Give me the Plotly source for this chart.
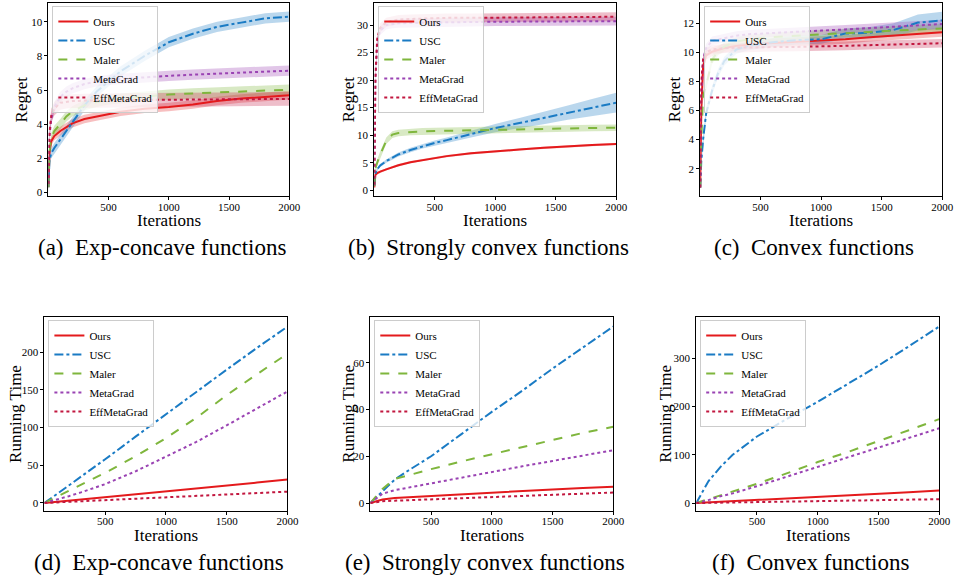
import plotly.graph_objects as go

W, H = 966, 583

NAMES = ["Ours", "USC", "Maler", "MetaGrad", "EffMetaGrad"]
COLORS = ["#e41a1c", "#1a7bc4", "#7fb63d", "#9a43b3", "#c2173f"]
FILLS = ["rgba(228,26,28,0.28)", "rgba(26,123,196,0.3)", "rgba(127,182,61,0.3)",
         "rgba(154,67,179,0.3)", "rgba(194,23,63,0.28)"]
DASHES = ["solid", "dashdot", "dash", "dot", "dot"]

# ---------------- Regret data ----------------
X_REG = [1, 10, 25, 50, 100, 150, 200, 300, 400, 500, 600, 800, 1000, 1200, 1400, 1600, 1800, 2000]

A_OURS = [0.3, 2.3, 3.0, 3.3, 3.6, 3.85, 4.05, 4.3, 4.45, 4.6, 4.72, 4.9, 5.0, 5.15, 5.35, 5.5, 5.6, 5.7]
A_USC = [0.3, 1.9, 2.3, 2.6, 3.1, 3.6, 4.1, 5.1, 5.9, 6.5, 7.1, 8.0, 8.8, 9.3, 9.7, 9.95, 10.2, 10.3]
A_MALER = [0.3, 2.4, 3.2, 3.6, 4.0, 4.45, 4.75, 5.1, 5.3, 5.45, 5.5, 5.62, 5.73, 5.8, 5.86, 5.92, 5.97, 6.02]
A_META = [0.5, 3.3, 4.3, 5.0, 5.6, 5.9, 6.1, 6.35, 6.5, 6.6, 6.65, 6.75, 6.83, 6.9, 6.97, 7.03, 7.08, 7.13]
A_EFF = [0.5, 3.5, 4.5, 4.9, 5.25, 5.32, 5.35, 5.38, 5.4, 5.4, 5.41, 5.42, 5.43, 5.44, 5.45, 5.46, 5.47, 5.48]
A_ERR = [0.25, 0.3, 0.3, 0.3, 0.4]

B_OURS = [0.5, 2.8, 3.1, 3.4, 3.8, 4.2, 4.55, 5.1, 5.5, 5.9, 6.2, 6.7, 7.1, 7.4, 7.7, 8.0, 8.2, 8.4]
B_USC = [0.8, 3.0, 3.8, 4.5, 5.3, 5.9, 6.5, 7.3, 8.0, 8.6, 9.1, 10.2, 11.3, 12.2, 13.1, 14.1, 15.0, 15.9]
B_MALER = [0.8, 4.0, 5.0, 6.5, 9.0, 10.1, 10.4, 10.6, 10.7, 10.75, 10.8, 10.85, 10.9, 11.0, 11.1, 11.2, 11.3, 11.35]
B_META = [1.0, 20.0, 27.0, 29.0, 30.0, 30.2, 30.3, 30.4, 30.45, 30.5, 30.5, 30.55, 30.6, 30.6, 30.65, 30.65, 30.7, 30.7]
B_EFF = [1.0, 20.5, 27.5, 29.5, 30.5, 30.8, 31.0, 31.1, 31.2, 31.25, 31.3, 31.3, 31.35, 31.4, 31.4, 31.45, 31.5, 31.5]
B_USC_ERR = [0.1, 0.3, 0.3, 0.3, 0.3, 0.35, 0.35, 0.4, 0.4, 0.45, 0.5, 0.6, 0.75, 0.9, 1.1, 1.3, 1.55, 1.8]
B_ERR = [0.2, None, 0.6, 0.8, 0.8]

C_OURS = [0.7, 6.0, 9.0, 9.8, 10.05, 10.2, 10.3, 10.45, 10.55, 10.6, 10.65, 10.72, 10.79, 10.9, 11.05, 11.15, 11.28, 11.38]
C_USC = [0.7, 2.5, 4.0, 5.8, 7.4, 8.6, 9.4, 10.2, 10.45, 10.6, 10.7, 10.85, 10.9, 11.3, 11.35, 11.55, 12.05, 12.2]
C_MALER = [0.7, 4.0, 7.0, 7.7, 9.5, 10.1, 10.4, 10.75, 10.9, 11.0, 11.05, 11.15, 11.25, 11.35, 11.42, 11.5, 11.58, 11.65]
C_META = [0.7, 7.0, 9.5, 10.3, 10.8, 10.9, 11.0, 11.15, 11.25, 11.3, 11.35, 11.42, 11.5, 11.58, 11.68, 11.78, 11.88, 11.95]
C_EFF = [0.7, 8.0, 9.5, 10.0, 10.2, 10.25, 10.3, 10.32, 10.35, 10.35, 10.37, 10.38, 10.4, 10.45, 10.5, 10.55, 10.6, 10.63]
C_USC_ERR = [0.05, 0.3, 0.3, 0.3, 0.3, 0.3, 0.3, 0.3, 0.3, 0.3, 0.3, 0.3, 0.3, 0.35, 0.4, 0.45, 0.55, 0.6]
C_ERR = [0.3, None, 0.3, 0.3, 0.3]

# ---------------- Running time data ----------------
X_RT = [0, 100, 200, 300, 500, 750, 1000, 1250, 1500, 1750, 2000]

D_OURS = [0, 1.5, 3, 4.5, 7.5, 11, 15, 19, 23, 27, 31]
D_USC = [0, 11.5, 23, 35, 58, 88, 118, 147, 177, 206, 234]
D_MALER = [0, 8, 16, 24, 40, 62, 86, 113, 143, 171, 198]
D_META = [0, 4, 9, 14, 25, 42, 61, 81, 103, 125, 148]
D_EFF = [0, 0.7, 1.4, 2.1, 3.5, 5.3, 7, 9, 11, 13, 15]

E_OURS = [0, 1.5, 2.2, 2.5, 3.0, 3.8, 4.5, 5.1, 5.8, 6.4, 7.0]
E_USC = [0, 5.0, 10.0, 13.5, 20.0, 29.5, 39.0, 48.0, 57.5, 66.5, 75.5]
E_MALER = [0, 6.0, 10.3, 11.8, 14.5, 17.8, 20.8, 24.0, 27.0, 30.0, 32.6]
E_META = [0, 4.0, 5.5, 6.5, 8.5, 11.0, 13.4, 15.7, 18.0, 20.3, 22.6]
E_EFF = [0, 0.8, 1.0, 1.2, 1.5, 2.0, 2.5, 3.0, 3.5, 4.0, 4.5]

F_OURS = [0, 1.2, 2.5, 3.6, 6, 9, 12.5, 16, 19, 22.5, 26]
F_USC = [0, 45, 75, 100, 138, 175, 210, 247, 285, 325, 366]
F_MALER = [0, 8, 17, 24, 40, 62, 85, 106, 128, 151, 174]
F_META = [0, 6, 14, 20, 35, 55, 75, 95, 115, 135, 155]
F_EFF = [0, 0.4, 0.8, 1.2, 2, 3, 4, 5, 6, 7, 8]

Y_TICKS = [
    [0, 2, 4, 6, 8, 10],
    [0, 5, 10, 15, 20, 25, 30],
    [2, 4, 6, 8, 10, 12],
    [0, 50, 100, 150, 200],
    [0, 20, 40, 60],
    [0, 100, 200, 300],
]
X_TICKS = [500, 1000, 1500, 2000]
CAPTIONS = ["(a)\u00a0 Exp-concave functions", "(b)\u00a0 Strongly convex functions",
            "(c)\u00a0 Convex functions", "(d)\u00a0 Exp-concave functions",
            "(e)\u00a0 Strongly convex functions", "(f)\u00a0 Convex functions"]
Y_TITLES = ["Regret", "Regret", "Regret", "Running Time", "Running Time", "Running Time"]

# ---------------- layout geometry (pixels) ----------------
# (left, right, top, bottom, yrange, ytitle_x)
PANELS = [
    (49, 293, 3, 197, [-0.23, 11.1], 22),
    (379, 624, 3, 197, [-1.1, 34.0], 353),
    (709, 954, 3, 197, [0.1, 13.4], 683),
    (45, 291, 318, 513, [-11, 247], 15),
    (375, 621, 318, 513, [-3.5, 79.6], 352),
    (705, 951, 318, 513, [-17, 386], 673),
]

SERIF = "Liberation Serif"

def fx(p):
    return p / W

def fy(p):
    return 1 - p / H

fig = go.Figure()

regret_sets = [
    ([A_OURS, A_USC, A_MALER, A_META, A_EFF], [A_ERR[0], A_ERR[1], A_ERR[2], A_ERR[3], A_ERR[4]]),
    ([B_OURS, B_USC, B_MALER, B_META, B_EFF], [B_ERR[0], B_USC_ERR, B_ERR[2], B_ERR[3], B_ERR[4]]),
    ([C_OURS, C_USC, C_MALER, C_META, C_EFF], [C_ERR[0], C_USC_ERR, C_ERR[2], C_ERR[3], C_ERR[4]]),
]
rt_sets = [
    [D_OURS, D_USC, D_MALER, D_META, D_EFF],
    [E_OURS, E_USC, E_MALER, E_META, E_EFF],
    [F_OURS, F_USC, F_MALER, F_META, F_EFF],
]

def axis_names(i):
    s = "" if i == 0 else str(i + 1)
    return "x" + s, "y" + s, "legend" + s

for p, (series, errs) in enumerate(regret_sets):
    xa, ya, lg = axis_names(p)
    for k in range(5):
        err = errs[k]
        if not isinstance(err, list):
            err = [err] * len(X_REG)
        up = [v + e for v, e in zip(series[k], err)]
        lo = [v - e for v, e in zip(series[k], err)]
        fig.add_trace(go.Scatter(
            x=X_REG + X_REG[::-1], y=up + lo[::-1], fill="toself",
            fillcolor=FILLS[k], line=dict(width=0), hoverinfo="skip",
            showlegend=False, xaxis=xa, yaxis=ya))
    for k in range(5):
        fig.add_trace(go.Scatter(
            x=X_REG, y=series[k], mode="lines", name=NAMES[k],
            line=dict(color=COLORS[k], width=2, dash=DASHES[k]),
            xaxis=xa, yaxis=ya, legend=lg))

for q, series in enumerate(rt_sets):
    p = q + 3
    xa, ya, lg = axis_names(p)
    for k in range(5):
        fig.add_trace(go.Scatter(
            x=X_RT, y=series[k], mode="lines", name=NAMES[k],
            line=dict(color=COLORS[k], width=2, dash=DASHES[k]),
            xaxis=xa, yaxis=ya, legend=lg))

layout = dict(
    width=W, height=H, margin=dict(l=0, r=0, t=0, b=0),
    paper_bgcolor="white", plot_bgcolor="white",
    font=dict(family=SERIF, color="black", size=11),
    annotations=[],
)

for p, (l, r, t, b, yr, ytx) in enumerate(PANELS):
    s = "" if p == 0 else str(p + 1)
    xr = [1, 2000] if p < 3 else [0, 2000]
    layout["xaxis" + s] = dict(
        domain=[fx(l), fx(r)], range=xr, anchor="y" + s,
        tickmode="array", tickvals=X_TICKS, ticks="outside", ticklen=3,
        tickwidth=0.8, tickcolor="black", showline=True, linecolor="black",
        linewidth=1, mirror=True, showgrid=False, zeroline=False,
        ticklabelstandoff=-3,
        tickfont=dict(family=SERIF, size=11, color="black"))
    layout["yaxis" + s] = dict(
        domain=[fy(b), fy(t)], range=yr, anchor="x" + s,
        tickmode="array", tickvals=Y_TICKS[p], ticks="outside", ticklen=3,
        tickwidth=0.8, tickcolor="black", showline=True, linecolor="black",
        linewidth=1, mirror=True, showgrid=False, zeroline=False,
        tickfont=dict(family=SERIF, size=11, color="black"))
    layout["legend" + s] = dict(
        x=fx(l + 4), y=fy(t + 3), xanchor="left", yanchor="top",
        xref="paper", yref="paper",
        bgcolor="rgba(255,255,255,0.8)", bordercolor="#cccccc", borderwidth=1,
        font=dict(family=SERIF, size=11, color="black"), itemwidth=30,
        tracegroupgap=0)
    cx = (l + r) / 2
    layout["annotations"].append(dict(
        text="Iterations", x=fx(cx), y=fy(b + 24), xref="paper", yref="paper",
        xanchor="center", yanchor="middle", showarrow=False,
        font=dict(family=SERIF, size=17, color="black")))
    layout["annotations"].append(dict(
        text=Y_TITLES[p], x=fx(ytx), y=fy((t + b) / 2), xref="paper", yref="paper",
        xanchor="center", yanchor="middle", showarrow=False, textangle=-90,
        font=dict(family=SERIF, size=17, color="black")))
    layout["annotations"].append(dict(
        text=CAPTIONS[p], x=fx(cx - 7), y=fy(b + 51), xref="paper", yref="paper",
        xanchor="center", yanchor="middle", showarrow=False,
        font=dict(family=SERIF, size=23, color="black")))

fig.update_layout(**layout)
fig.write_html("out.html", config={"displayModeBar": False},
               post_script="document.body.style.margin='0px';document.body.style.padding='0px';")
